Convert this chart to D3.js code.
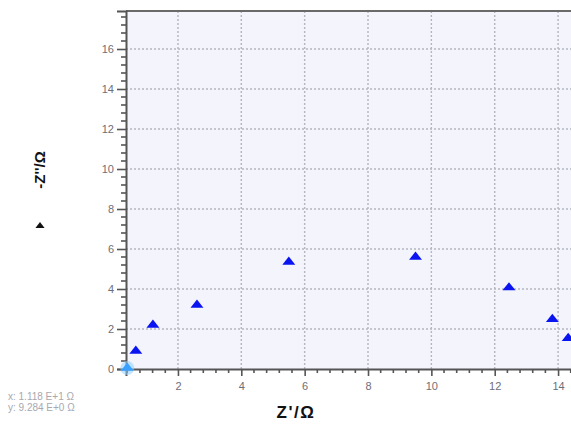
<!DOCTYPE html>
<html>
<head>
<meta charset="utf-8">
<script src="https://cdn.jsdelivr.net/npm/d3@7"></script>
<style>
  html, body { margin: 0; padding: 0; background: #ffffff; }
  svg { display: block; }
</style>
</head>
<body>
<svg id="chart" width="571" height="427"></svg>
<script>
// Nyquist data: real part Z' and negated imaginary part -Z'' (Ω)
const zReal = [0.40, 0.67, 1.21, 2.60, 5.50, 9.50, 12.45, 13.82, 14.32];
const zImagNeg = [0.05, 0.90, 2.20, 3.20, 5.35, 5.60, 4.07, 2.49, 1.54];
const xTickValues = [2, 4, 6, 8, 10, 12, 14];
const yTickValues = [0, 2, 4, 6, 8, 10, 12, 14, 16];
const cursorLines = ["x: 1.118 E+1 Ω", "y: 9.284 E+0 Ω"];

const svg = d3.select("#chart");
const m = { left: 126, top: 11 };

const x = d3.scaleLinear().domain([0.36, 14.44]).range([m.left, 572]);
const y = d3.scaleLinear().domain([0, 17.9]).range([369, m.top]);

// plot background
svg.append("rect")
  .attr("x", m.left).attr("y", m.top)
  .attr("width", 572 - m.left).attr("height", 369 - m.top)
  .attr("fill", "#f3f4fc");

// dotted grid
const grid = svg.append("g").attr("stroke", "#b4b6c0").attr("stroke-width", 1.4)
  .attr("stroke-dasharray", "2,2");
grid.selectAll("line.v").data(xTickValues).join("line")
  .attr("x1", d => x(d)).attr("x2", d => x(d))
  .attr("y1", m.top).attr("y2", 369);
grid.selectAll("line.h").data(yTickValues.filter(d => d > 0)).join("line")
  .attr("x1", m.left).attr("x2", 572)
  .attr("y1", d => y(d)).attr("y2", d => y(d));

// top frame line
svg.append("line").attr("x1", m.left).attr("x2", 572)
  .attr("y1", m.top).attr("y2", m.top)
  .attr("stroke", "#6a6a6a").attr("stroke-width", 2);

// minor ticks
const xMinor = d3.range(0.4, 14.41, 0.4).filter(v => Math.abs(v / 2 - Math.round(v / 2)) > 0.01);
const yMinor = d3.range(0.4, 17.9, 0.4).filter(v => Math.abs(v / 2 - Math.round(v / 2)) > 0.01);

const xAxis = d3.axisBottom(x).tickValues(xTickValues).tickFormat(d3.format("d"))
  .tickSize(7).tickPadding(6);
const gx = svg.append("g").attr("transform", "translate(0,369)").call(xAxis);
gx.select(".domain").attr("stroke", "#555").attr("stroke-width", 2);
gx.selectAll(".tick line").attr("stroke", "#555").attr("stroke-width", 1.6);
gx.selectAll(".tick text").attr("fill", "#6e6e78")
  .style("font-family", "Liberation Sans, Arial, sans-serif").style("font-size", "11px");
gx.append("g").selectAll("line").data(xMinor).join("line")
  .attr("x1", d => x(d)).attr("x2", d => x(d)).attr("y1", 0).attr("y2", 4)
  .attr("stroke", "#555").attr("stroke-width", 1.6);

const yAxis = d3.axisLeft(y).tickValues(yTickValues).tickFormat(d3.format("d"))
  .tickSize(9).tickPadding(3);
const gy = svg.append("g").attr("transform", `translate(${m.left},0)`).call(yAxis);
gy.select(".domain").attr("stroke", "#555").attr("stroke-width", 2);
gy.selectAll(".tick line").attr("stroke", "#555").attr("stroke-width", 1.6);
gy.selectAll(".tick text").attr("fill", "#6e6e78")
  .style("font-family", "Liberation Sans, Arial, sans-serif").style("font-size", "11px");
gy.append("g").selectAll("line").data(yMinor).join("line")
  .attr("x1", -5).attr("x2", 0).attr("y1", d => y(d)).attr("y2", d => y(d))
  .attr("stroke", "#555").attr("stroke-width", 1.6);

// data markers (flattened triangles)
const tri = d3.symbol(d3.symbolTriangle, 60)();
const pts = zReal.map((v, i) => ({ x: v, y: zImagNeg[i], i }));

// highlighted first point glow
svg.append("circle")
  .attr("cx", x(pts[0].x)).attr("cy", y(pts[0].y)).attr("r", 7)
  .attr("fill", "#8fd0ff").attr("opacity", 0.55);

svg.append("g").selectAll("path").data(pts).join("path")
  .attr("d", tri)
  .attr("transform", d => `translate(${x(d.x)},${y(d.y)}) scale(1.1,0.8)`)
  .attr("fill", d => d.i === 0 ? "#3aa0ff" : "#0a14f0");

// axis titles
svg.append("text")
  .attr("x", 296).attr("y", 418).attr("text-anchor", "middle")
  .style("font-family", "Liberation Sans, Arial, sans-serif")
  .style("font-size", "17px").style("font-weight", "bold")
  .style("letter-spacing", "1.5px").attr("fill", "#111")
  .text("Z'/Ω");

svg.append("text")
  .attr("transform", "translate(45,170) rotate(-90)")
  .attr("text-anchor", "middle")
  .style("font-family", "Liberation Sans, Arial, sans-serif")
  .style("font-size", "15px").style("font-weight", "bold").attr("fill", "#111")
  .text("-Z''/Ω");

// legend symbol
svg.append("path")
  .attr("d", d3.symbol(d3.symbolTriangle, 30)())
  .attr("transform", "translate(40,226) scale(1.1,0.85)")
  .attr("fill", "#111");

// cursor readout
svg.append("g").selectAll("text").data(cursorLines).join("text")
  .attr("x", 8).attr("y", (d, i) => 400 + i * 11)
  .style("font-family", "Liberation Sans, Arial, sans-serif")
  .style("font-size", "10px").attr("fill", "#a8a8b0")
  .text(d => d);
</script>
</body>
</html>
